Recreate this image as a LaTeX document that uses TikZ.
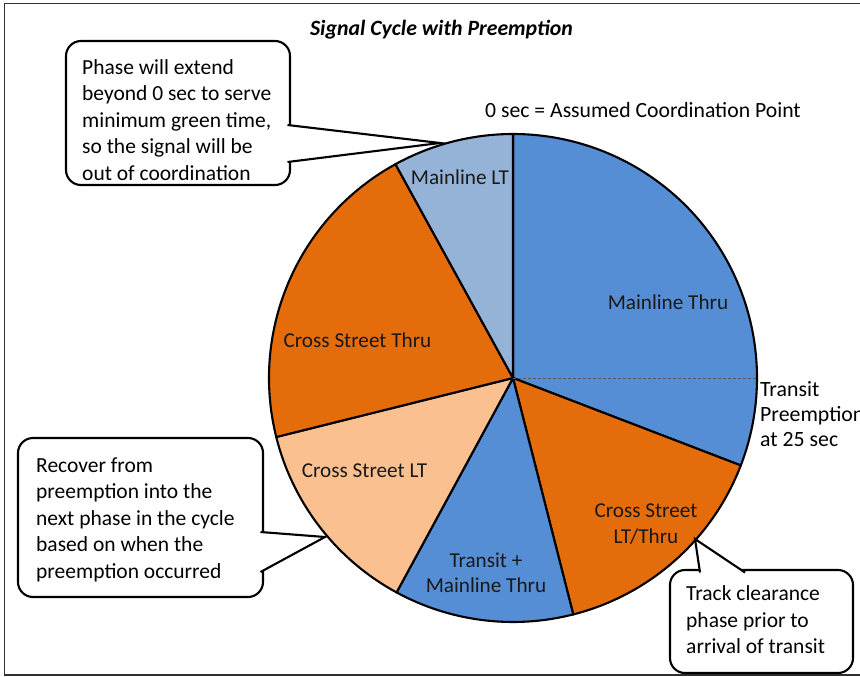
\documentclass[tikz,border=0pt]{standalone}
\usepackage{fontspec}
\usetikzlibrary{calc}
\setmainfont{Carlito}
\definecolor{cblue}{HTML}{558ED5}
\definecolor{clblue}{HTML}{95B3D7}
\definecolor{corange}{HTML}{E46C0A}
\definecolor{clorange}{HTML}{FAC090}
\definecolor{frame}{HTML}{303030}
\begin{document}
\begin{tikzpicture}[x=1pt,y=1pt,
  wedge/.style={draw=black, line width=2.1, line join=round},
  lbl/.style={font=\fontsize{21.2}{25.5}\selectfont, text=black!90, align=center, inner sep=0},
  ctext/.style={font=\fontsize{21.5}{26.5}\selectfont, align=left, inner sep=0, anchor=north west},
  callout/.style={draw=black, line width=2.1, fill=white, rounded corners=15, inner sep=0},
  pointer/.style={draw=black, line width=2.1, fill=white, line join=miter},
  plain/.style={font=\fontsize{21.7}{25}\selectfont, inner sep=0}
]
\useasboundingbox (0,0) rectangle (860,-677);
% frame
\draw[frame, line width=1.8] (861,-3.5) -- (4.5,-3.5) -- (4.5,-675) -- (861,-675);

% title
\node[plain, font=\fontsize{21.8}{25}\selectfont\bfseries\itshape] (title) at (441.5,-30) {Signal Cycle with Preemption};

% pie
\coordinate (C) at (513,-378);
\def\R{244}
\filldraw[wedge, fill=cblue] (C) -- ++(90:\R) arc[start angle=90, end angle=-21, radius=\R] -- cycle;
\filldraw[wedge, fill=corange] (C) -- ++(-21:\R) arc[start angle=-21, end angle=-75.7, radius=\R] -- cycle;
\filldraw[wedge, fill=cblue] (C) -- ++(-75.7:\R) arc[start angle=-75.7, end angle=-118.5, radius=\R] -- cycle;
\filldraw[wedge, fill=clorange] (C) -- ++(-118.5:\R) arc[start angle=-118.5, end angle=-166, radius=\R] -- cycle;
\filldraw[wedge, fill=corange] (C) -- ++(-166:\R) arc[start angle=-166, end angle=-241.2, radius=\R] -- cycle;
\filldraw[wedge, fill=clblue] (C) -- ++(-241.2:\R) arc[start angle=-241.2, end angle=-270, radius=\R] -- cycle;
\coordinate (P25) at ($(C)+(\R-1.2,0)$);
\draw[densely dashed, line width=0.7, color=black!65] (C) -- (P25);

% slice labels
\node[lbl] (mlt) at (460,-177) {Mainline LT};
\node[lbl] (mth) at (668,-302) {Mainline Thru};
\node[lbl] (cth) at (357.5,-340) {Cross Street Thru};
\node[lbl] (clt) at (364.5,-471) {Cross Street LT};
\node[lbl] (tmt) at (486,-573) {Transit +\\Mainline Thru};
\node[lbl] (clth) at (646,-524) {Cross Street\\LT/Thru};

% outside labels
\node[plain, anchor=west] (zero) at (485,-110) {0 sec = Assumed Coordination Point};
\node[ctext, font=\fontsize{21.8}{25}\selectfont] (pre) at (760,-381) {Transit\\Preemption\\at 25 sec};

% callout 1
\node[callout, minimum width=224, minimum height=144] (c1) at (178,-113) {};
\coordinate (t1) at (440,-143);
\filldraw[pointer] (287.5,-125) -- (t1) -- (287.5,-162);
\node[ctext] (x1) at (82,-59) {Phase will extend\\beyond 0 sec to serve\\minimum green time,\\so the signal will be\\out of coordination};

% callout 2
\node[callout, minimum width=245, minimum height=159] (c2) at (140.5,-517.5) {};
\coordinate (t2) at (325,-537);
\filldraw[pointer] (260.5,-532) -- (t2) -- (260.5,-572);
\node[ctext] (x2) at (36,-457.5) {Recover from\\preemption into the\\next phase in the cycle\\based on when the\\preemption occurred};

% callout 3
\node[callout, minimum width=183, minimum height=103] (c3) at (761.5,-621.5) {};
\coordinate (t3) at (695,-539);
\filldraw[pointer] (700,-572.5) -- (t3) -- (745,-572.5);
\node[ctext] (x3) at (686,-585.5) {Track clearance\\phase prior to\\arrival of transit};
\end{tikzpicture}
\end{document}
